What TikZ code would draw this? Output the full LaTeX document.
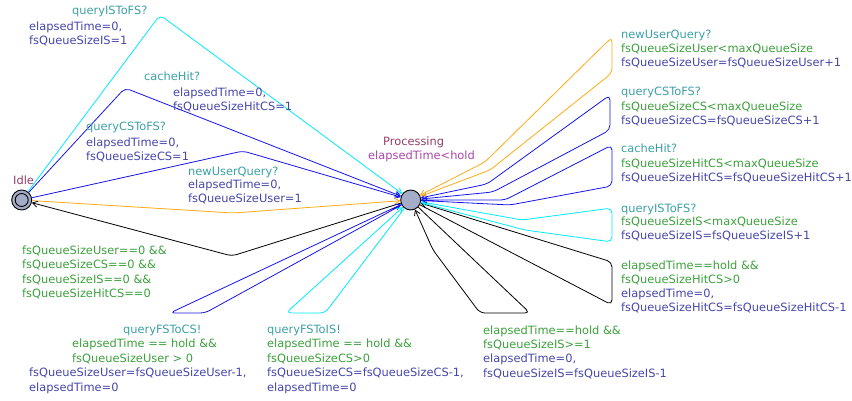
\documentclass[tikz,border=0pt]{standalone}
\usepackage{fontspec}
\setmainfont{DejaVu Sans}
\usetikzlibrary{arrows.meta}
\definecolor{synccol}{RGB}{60,160,165}
\definecolor{guardcol}{RGB}{60,160,60}
\definecolor{assigncol}{RGB}{70,70,170}
\definecolor{namecol}{RGB}{150,60,100}
\definecolor{invcol}{RGB}{170,70,170}
\definecolor{ecyan}{RGB}{0,235,250}
\definecolor{eblue}{RGB}{20,20,235}
\definecolor{eorange}{RGB}{255,170,20}
\definecolor{locfill}{RGB}{165,172,200}
\begin{document}
\begin{tikzpicture}[x=1pt,y=-1pt,
  loc/.style={circle, draw=black, fill=locfill, minimum size=20pt, inner sep=0pt, line width=0.9pt},
  lbl/.style={anchor=north west, inner sep=0pt, align=left, font=\fontsize{11.4}{14.4}\selectfont},
  sync/.style={lbl, text=synccol},
  guard/.style={lbl, text=guardcol},
  assign/.style={lbl, text=assigncol},
  edge/.style={line width=0.8pt, rounded corners=5pt, -{Straight Barb[length=5pt,width=6pt]}}
]
\useasboundingbox (0,0) rectangle (852,401);

% locations
\node[loc] (idle) at (21.7,200) {};
\draw[line width=0.9pt] (idle.center) circle (6.5pt);
\node[loc] (proc) at (410.7,200) {};
\node[lbl, text=namecol] (idlename) at (13,175.5) {Idle};
\node[lbl, text=namecol] (procname) at (383,136.5) {Processing};
\node[lbl, text=invcol] (procinv) at (368,150.5) {elapsedTime<hold};

% Idle -> Processing
\draw[edge, ecyan] (idle) -- (160,15) -- (proc);
\draw[edge, eblue] (idle) -- (125,88) -- (proc);
\draw[edge, eblue] (idle) -- (243,151) -- (proc);
\draw[edge, eorange] (idle) -- (233,213) -- (proc);
% Processing -> Idle
\draw[edge, black] (proc) -- (232,256) -- (idle);

% bottom loops
\draw[edge, eblue] (proc) -- (205,313) -- (170,313) -- (proc);
\draw[edge, ecyan] (proc) -- (325,313) -- (286,313) -- (proc);
\draw[edge, black] (proc) -- (530,313) -- (480,313) -- (433,250) -- (proc);
% right loops
\draw[edge, black] (proc) -- (612,305) -- (612,262) -- (proc);
\draw[edge, ecyan] (proc) -- (525,230) -- (612,242) -- (612,208) -- (522,220) -- (proc);
\draw[edge, eblue] (proc) -- (510,205) -- (612,186) -- (612,145) -- (505,200) -- (proc);
\draw[edge, eblue] (proc) -- (493,192) -- (610,130) -- (610,95) -- (487,184) -- (proc);
\draw[edge, eorange] (proc) -- (490,170) -- (612,73) -- (612,37) -- (485,162) -- (proc);

% labels Idle -> Processing
\node[sync] (s1) at (72,6) {queryISToFS?};
\node[assign] (a1) at (29,21.5) {elapsedTime=0,\\fsQueueSizeIS=1};
\node[sync] (s2) at (144,72) {cacheHit?};
\node[assign] (a2) at (173,87.5) {elapsedTime=0,\\fsQueueSizeHitCS=1};
\node[sync] (s3) at (86,121.5) {queryCSToFS?};
\node[assign] (a3) at (86,137.5) {elapsedTime=0,\\fsQueueSizeCS=1};
\node[sync] (s4) at (188,166.5) {newUserQuery?};
\node[assign] (a4) at (188,179.5) {elapsedTime=0,\\fsQueueSizeUser=1};
\node[guard] (g5) at (22,245.5) {fsQueueSizeUser==0 \&\&\\fsQueueSizeCS==0 \&\&\\fsQueueSizeIS==0 \&\&\\fsQueueSizeHitCS==0};

% bottom loop labels
\node[sync] (s6) at (123,324.5) {queryFSToCS!};
\node[guard] (g6) at (72,339) {elapsedTime == hold \&\&\\fsQueueSizeUser > 0};
\node[assign] (a6) at (29,368) {fsQueueSizeUser=fsQueueSizeUser-1,\\elapsedTime=0};
\node[sync] (s7) at (267,324.5) {queryFSToIS!};
\node[guard] (g7) at (267,339) {elapsedTime == hold \&\&\\fsQueueSizeCS>0};
\node[assign] (a7) at (267,368) {fsQueueSizeCS=fsQueueSizeCS-1,\\elapsedTime=0};
\node[guard] (g8) at (483,325.5) {elapsedTime==hold \&\&\\fsQueueSizeIS>=1};
\node[assign] (a8) at (483,354) {elapsedTime=0,\\fsQueueSizeIS=fsQueueSizeIS-1};

% right loop labels
\node[guard] (g9) at (621,260.5) {elapsedTime==hold \&\&\\fsQueueSizeHitCS>0};
\node[assign] (a9) at (621,288.5) {elapsedTime=0,\\fsQueueSizeHitCS=fsQueueSizeHitCS-1};
\node[sync] (s10) at (621,204) {queryISToFS?};
\node[guard] (g10) at (621,217) {fsQueueSizeIS<maxQueueSize};
\node[assign] (a10) at (621,231) {fsQueueSizeIS=fsQueueSizeIS+1};
\node[sync] (s11) at (621,144) {cacheHit?};
\node[guard] (g11) at (621,159) {fsQueueSizeHitCS<maxQueueSize};
\node[assign] (a11) at (621,173) {fsQueueSizeHitCS=fsQueueSizeHitCS+1};
\node[sync] (s12) at (621,87) {queryCSToFS?};
\node[guard] (g12) at (621,102) {fsQueueSizeCS<maxQueueSize};
\node[assign] (a12) at (621,116) {fsQueueSizeCS=fsQueueSizeCS+1};
\node[sync] (s13) at (621,29.5) {newUserQuery?};
\node[guard] (g13) at (621,44) {fsQueueSizeUser<maxQueueSize};
\node[assign] (a13) at (621,58) {fsQueueSizeUser=fsQueueSizeUser+1};
\end{tikzpicture}
\end{document}
